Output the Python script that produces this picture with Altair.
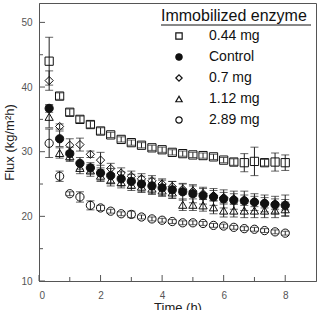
import altair as alt
import pandas as pd

FONT = "Liberation Sans"

# Sampling times (h)
hours = [0.33, 0.67, 1.0, 1.33, 1.67, 2.0, 2.33, 2.67, 3.0, 3.33, 3.67, 4.0,
         4.33, 4.67, 5.0, 5.33, 5.67, 6.0, 6.33, 6.67, 7.0, 7.33, 7.67, 8.0]

# Series order as listed in the legend
series_names = ["0.44 mg", "Control", "0.7 mg", "1.12 mg", "2.89 mg"]
series_shapes = ["square", "circle", "diamond", "triangle-up", "circle"]
series_fills = ["transparent", "#111111", "transparent", "transparent", "transparent"]
series_strokes = ["#111111"] * 5

# Flux (kg/m2h) and standard deviations
flux_044 = [44.0, 38.6, 36.1, 35.0, 34.2, 33.2, 32.6, 31.9, 31.4, 31.0, 30.6, 30.3,
            29.9, 29.7, 29.5, 29.4, 29.2, 28.7, 28.4, 28.3, 28.5, 28.3, 28.4, 28.3]
err_044 = [3.7, 0.5, 0.5, 0.5, 0.5, 0.5, 0.4, 0.4, 0.4, 0.4, 0.4, 0.4,
           0.4, 0.4, 0.4, 0.4, 0.4, 0.4, 0.5, 1.4, 2.2, 0.5, 1.4, 1.2]

flux_ctrl = [36.7, 32.0, 29.7, 28.2, 27.5, 26.7, 26.3, 25.8, 25.4, 25.0, 24.7, 24.4,
             24.1, 23.8, 23.5, 23.2, 23.0, 22.7, 22.5, 22.4, 22.2, 22.0, 21.8, 21.7]
err_ctrl = [0.6, 1.2, 1.0, 0.9, 0.8, 1.2, 1.1, 1.1, 1.1, 1.2, 1.2, 1.2,
            1.3, 1.3, 1.4, 1.3, 1.3, 1.4, 1.4, 1.5, 1.3, 1.3, 1.3, 1.6]

flux_070 = [41.0, 33.9, 31.0, 31.1, 29.6, 28.7, 27.4, 26.7, 26.2, 25.8, 25.5, 25.0,
            24.6, 24.2, 23.9, 23.5, 23.2, 22.9, 22.7, 22.5, 22.3, 22.1, 21.9, 21.8]
err_070 = [1.5, 0.4, 1.0, 1.0, 0.5, 1.2, 0.8, 0.8, 0.8, 0.8, 0.8, 0.8,
           0.8, 0.8, 0.8, 0.8, 0.8, 0.8, 0.8, 0.8, 0.8, 0.8, 0.8, 0.8]

flux_112 = [35.4, 29.8, 29.3, 27.5, 27.1, 26.3, 25.6, 25.3, 24.9, 24.6, 24.3, 24.0,
            23.7, 21.8, 21.8, 21.7, 21.4, 20.9, 20.9, 20.9, 20.9, 20.9, 20.9, 21.1]
err_112 = [1.7, 0.8, 0.8, 0.9, 0.9, 0.9, 0.9, 0.9, 0.9, 0.9, 0.9, 0.9,
           0.9, 0.9, 0.9, 0.9, 1.0, 1.0, 1.0, 1.1, 1.1, 1.1, 1.1, 1.1]

flux_289 = [31.3, 26.2, 23.5, 23.0, 21.7, 21.3, 20.8, 20.4, 20.3, 19.9, 19.6, 19.4,
            19.2, 19.0, 19.0, 18.9, 18.6, 18.5, 18.3, 18.1, 18.0, 17.8, 17.6, 17.4]
err_289 = [2.2, 0.8, 0.3, 0.8, 0.7, 0.4, 0.3, 0.3, 0.5, 0.3, 0.3, 0.3,
           0.3, 0.3, 0.3, 0.3, 0.3, 0.3, 0.3, 0.3, 0.3, 0.3, 0.3, 0.3]

# Axis tick positions
y_major = [10, 20, 30, 40, 50]
y_minor = [15, 25, 35, 45]
x_major = [0, 2, 4, 6, 8]
x_minor = [1, 3, 5, 7]

series_values = {
    "0.44 mg": (flux_044, err_044),
    "0.7 mg": (flux_070, err_070),
    "1.12 mg": (flux_112, err_112),
    "2.89 mg": (flux_289, err_289),
    "Control": (flux_ctrl, err_ctrl),  # drawn last so the filled dots sit on top
}

rows = []
for name, (vals, errs) in series_values.items():
    for t, v, e in zip(hours, vals, errs):
        rows.append({"series": name, "t": t, "flux": v, "lo": v - e, "hi": v + e})
df = pd.DataFrame(rows)

INK = "#111111"
AXIS = "#555555"

x_scale = alt.Scale(domain=[0, 9], nice=False)
y_scale = alt.Scale(domain=[10, 53], nice=False)

x_enc = alt.X("t:Q", scale=x_scale,
              axis=alt.Axis(title="Time (h)", values=x_major, ticks=False,
                            labelPadding=9, titlePadding=1))
y_enc = alt.Y("flux:Q", scale=y_scale,
              axis=alt.Axis(title="Flux (kg/m²h)", values=y_major, ticks=False,
                            labelPadding=7, titlePadding=4))

base = alt.Chart(df)

bars = base.mark_rule(color="#222222", strokeWidth=1).encode(
    x=x_enc, y=alt.Y("lo:Q", scale=y_scale), y2="hi:Q"
)
caps_lo = base.mark_tick(color="#222222", orient="horizontal", size=8, thickness=1).encode(
    x="t:Q", y=alt.Y("lo:Q", scale=y_scale)
)
caps_hi = base.mark_tick(color="#222222", orient="horizontal", size=8, thickness=1).encode(
    x="t:Q", y=alt.Y("hi:Q", scale=y_scale)
)

legend = alt.Legend(
    title="Immobilized enzyme", orient="none", legendX=122, legendY=5,
    padding=0, titleFont=FONT, titleFontSize=16, titleFontWeight="normal",
    titleColor=INK, titlePadding=5, labelFont=FONT, labelFontSize=14,
    labelColor=INK, symbolSize=40, symbolStrokeWidth=1.2, symbolOffset=11,
    labelOffset=23, rowPadding=7)

points = base.mark_point(filled=True, size=68, strokeWidth=1, opacity=1).encode(
    x=x_enc,
    y=y_enc,
    shape=alt.Shape("series:N", sort=series_names,
                    scale=alt.Scale(domain=series_names, range=series_shapes),
                    legend=legend),
    fill=alt.Fill("series:N", sort=series_names,
                  scale=alt.Scale(domain=series_names, range=series_fills),
                  legend=legend),
    stroke=alt.Stroke("series:N", sort=series_names,
                      scale=alt.Scale(domain=series_names, range=series_strokes),
                      legend=legend),
)

# Inward axis ticks
ytick_major = alt.Chart(pd.DataFrame({"flux": y_major})).mark_rule(color=AXIS).encode(
    y=alt.Y("flux:Q", scale=y_scale), x=alt.value(0), x2=alt.value(6))
ytick_minor = alt.Chart(pd.DataFrame({"flux": y_minor})).mark_rule(color=AXIS).encode(
    y=alt.Y("flux:Q", scale=y_scale), x=alt.value(0), x2=alt.value(4))
xtick_major = alt.Chart(pd.DataFrame({"t": x_major})).mark_rule(color=AXIS).encode(
    x=alt.X("t:Q", scale=x_scale), y=alt.value(278), y2=alt.value(272))
xtick_minor = alt.Chart(pd.DataFrame({"t": x_minor})).mark_rule(color=AXIS).encode(
    x=alt.X("t:Q", scale=x_scale), y=alt.value(278), y2=alt.value(274))

# Underline beneath the legend title
underline = alt.Chart(pd.DataFrame({"u": [0]})).mark_rule(color=INK, strokeWidth=1).encode(
    x=alt.value(122), x2=alt.value(272), y=alt.value(22))

chart = alt.layer(
    ytick_major, ytick_minor, xtick_major, xtick_minor,
    bars, caps_lo, caps_hi, points, underline
).properties(
    width=277, height=278,
    autosize=alt.AutoSizeParams(type="none"),
    padding={"left": 39, "top": 3, "right": 3, "bottom": 29},
    background="white",
).configure_view(
    stroke=AXIS, strokeWidth=1
).configure_axis(
    grid=False, labelFont=FONT, labelFontSize=10, labelColor="#555555",
    domainColor=AXIS, titleFont=FONT, titleFontSize=13,
    titleFontWeight="normal", titleColor="#222222"
)

chart.save("out.html", embed_options={"renderer": "svg", "actions": False})
